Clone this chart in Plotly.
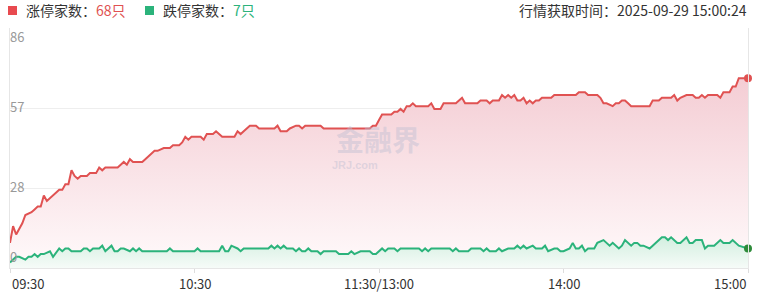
import plotly.graph_objects as go

# ---- data (minutes since 09:30, trading minutes; 120 = 11:30/13:00) ----
red_min = [0, 1, 2, 3, 4, 5, 7, 8, 9, 10, 11, 12, 14, 16, 17, 18, 19, 20, 21, 22, 23, 25, 26, 28, 29, 30,
           31, 35, 36, 37, 38, 39, 40, 43, 44, 45, 47, 48, 50, 52, 53, 55, 56, 57, 58, 59, 62, 63, 64, 66,
           67, 69, 73, 74, 75, 76, 78, 80, 81, 86, 87, 88, 90, 91, 93, 94, 95, 96, 101, 102, 117, 118, 119,
           120, 121, 124, 125, 126, 127, 128, 129, 130, 131, 132, 136, 137, 138, 140, 141, 145, 147, 148,
           152, 153, 155, 156, 157, 159, 160, 161, 162, 163, 164, 165, 166, 167, 168, 169, 170, 171, 172,
           173, 176, 177, 184, 185, 187, 188, 191, 192, 193, 194, 196, 197, 198, 199, 200, 201, 202, 208,
           209, 211, 212, 215, 216, 217, 218, 220, 222, 223, 224, 225, 226, 227, 230, 231, 232, 234, 235,
           236, 237, 240]
red_val = [9, 15, 12, 14, 16, 19, 20, 21, 22, 22, 26, 24, 26, 28, 28, 30, 30, 35, 33, 32, 33, 33, 34, 34, 36, 35,
           36, 36, 37, 38, 37, 39, 38, 38, 39, 40, 42, 42, 43, 43, 44, 44, 45, 47, 46, 47, 47, 46, 48, 48,
           49, 47, 47, 49, 48, 49, 51, 51, 50, 50, 51, 49, 49, 50, 51, 51, 50, 51, 51, 50, 50, 51, 51,
           53, 55, 55, 56, 56, 57, 56, 58, 58, 59, 58, 58, 59, 57, 57, 59, 59, 61, 59,
           59, 60, 60, 59, 60, 60, 62, 61, 62, 61, 62, 60, 60, 61, 59, 60, 59, 60, 60,
           61, 61, 62, 62, 63, 63, 62, 62, 61, 59, 59, 58, 59, 59, 60, 60, 59, 58, 58,
           60, 60, 61, 61, 62, 60, 61, 62, 62, 61, 61, 62, 61, 62, 62, 61, 63, 63, 65,
           65, 68, 68]

green_min = [0, 1, 2, 3, 5, 6, 7, 8, 9, 10, 11, 13, 14, 16, 17, 18, 19, 20, 23, 24, 25, 26, 27, 29, 30, 31,
             33, 34, 35, 36, 37, 39, 40, 41, 42, 43, 51, 52, 53, 60, 61, 62, 68, 69, 70, 71, 72, 74, 75, 76,
             78, 84, 85, 86, 87, 88, 89, 90, 92, 93, 94, 95, 96, 97, 98, 100, 101, 102, 106, 107, 110, 111,
             112, 114, 117, 118, 119, 121, 122, 123, 125, 126, 127, 133, 134, 135, 136, 137, 143, 144, 145,
             146, 149, 150, 153, 154, 155, 156, 158, 159, 160, 162, 164, 165, 166, 167, 168, 170, 171, 173,
             174, 175, 177, 178, 179, 180, 182, 183, 184, 185, 186, 187, 188, 190, 191, 193, 194, 195, 196,
             198, 199, 200, 202, 203, 204, 205, 206, 208, 209, 210, 212, 213, 214, 215, 217, 218, 220, 221,
             222, 223, 225, 226, 227, 229, 230, 231, 232, 234, 235, 236, 237, 240]
green_val = [2, 3, 4, 4, 3, 4, 4, 5, 4, 5, 5, 6, 4, 7, 6, 7, 7, 6, 6, 7, 7, 6, 7, 7, 8, 6,
             8, 6, 6, 7, 7, 6, 7, 6, 7, 6, 6, 7, 6, 6, 7, 6, 6, 8, 6, 6, 8, 7, 6, 7,
             7, 7, 8, 7, 8, 7, 8, 7, 7, 6, 7, 6, 6, 7, 6, 6, 5, 6, 6, 5, 5, 6,
             5, 6, 6, 5, 5, 7, 6, 7, 7, 6, 7, 7, 6, 7, 6, 7, 7, 6, 7,
             6, 6, 7, 7, 6, 7, 6, 6, 7, 6, 7, 7, 8, 7, 8, 7, 8, 7, 7,
             8, 6, 7, 7, 6, 6, 7, 9, 7, 7, 8, 6, 7, 7, 9, 10, 9, 8, 9,
             7, 8, 10, 8, 9, 9, 8, 8, 7, 8, 9, 11, 11, 10, 11, 9, 9, 11, 9,
             9, 10, 10, 7, 8, 8, 9, 10, 9, 9, 10, 9, 8, 7]

x_tickvals = [0, 60, 120, 180, 240]
x_ticktext = ["09:30", "10:30", "11:30/13:00", "14:00", "15:00"]
y_max = 86
y_tickvals = [0, 86 / 3, 172 / 3, 86]
y_ticktext = ["0", "28", "57", "86"]

up_count = 68
down_count = 7
fetch_time = "2025-09-29 15:00:24"

RED = "#e05252"
GREEN = "#2bb37b"
FONT = "Noto Sans CJK SC"

fig = go.Figure()

fig.add_trace(go.Scatter(
    x=red_min, y=red_val, mode="lines",
    line=dict(color=RED, width=2),
    fill="tozeroy",
    fillgradient=dict(type="vertical", start=0, stop=68,
                      colorscale=[[0, "rgba(255,250,251,1)"], [1, "rgba(244,205,212,1)"]]),
    hoverinfo="skip", showlegend=False))

fig.add_trace(go.Scatter(
    x=green_min, y=green_val, mode="lines",
    line=dict(color=GREEN, width=2),
    fill="tozeroy",
    fillgradient=dict(type="vertical", start=0, stop=10,
                      colorscale=[[0, "rgba(246,251,248,1)"], [1, "rgba(214,240,226,1)"]]),
    hoverinfo="skip", showlegend=False))

fig.add_trace(go.Scatter(x=[red_min[-1]], y=[red_val[-1]], mode="markers",
                         marker=dict(color=RED, size=8), cliponaxis=False,
                         hoverinfo="skip", showlegend=False))
fig.add_trace(go.Scatter(x=[green_min[-1]], y=[green_val[-1]], mode="markers",
                         marker=dict(color="#2e8b3a", size=8), cliponaxis=False,
                         hoverinfo="skip", showlegend=False))

L, R, T, B = 10, 16, 28, 26
W, H = 764, 294
pw, ph = W - L - R, H - T - B


def px(xp):
    return (xp - L) / pw


def py(yp):
    return (H - B - yp) / ph


annotations = []
# x tick labels
for v, t in zip(x_tickvals, x_ticktext):
    anchor = "center"
    if v == x_tickvals[0]:
        anchor = "left"
    elif v == x_tickvals[-1]:
        anchor = "right"
    annotations.append(dict(x=v, y=0, xref="x", yref="paper", text=t, showarrow=False,
                            xanchor=anchor, yanchor="top", yshift=-4,
                            font=dict(family=FONT, size=13, color="#333333")))
# y tick labels
for v, t in zip(y_tickvals, y_ticktext):
    if v == y_tickvals[-1]:
        ya, ys = "top", 3
    elif v == y_tickvals[0]:
        ya, ys = "bottom", 0
    else:
        ya, ys = "middle", 2
    annotations.append(dict(x=0, y=v, xref="paper", yref="y", text=t, showarrow=False,
                            xanchor="left", yanchor=ya, yshift=ys, xshift=-2,
                            font=dict(family=FONT, size=13, color="#999999")))
# legend-like header
annotations.append(dict(x=px(24), y=py(10.5), xref="paper", yref="paper", showarrow=False,
                        xanchor="left", yanchor="middle",
                        text=f"涨停家数：<span style='color:{RED}'>{up_count}只</span>",
                        font=dict(family=FONT, size=14, color="#333333")))
annotations.append(dict(x=px(161), y=py(10.5), xref="paper", yref="paper", showarrow=False,
                        xanchor="left", yanchor="middle",
                        text=f"跌停家数：<span style='color:{GREEN}'>{down_count}只</span>",
                        font=dict(family=FONT, size=14, color="#333333")))
annotations.append(dict(x=px(749), y=py(10.5), xref="paper", yref="paper", showarrow=False,
                        xanchor="right", yanchor="middle",
                        text=f"行情获取时间：{fetch_time}",
                        font=dict(family=FONT, size=14, color="#333333")))
# watermark
annotations.append(dict(x=px(378), y=py(139), xref="paper", yref="paper", showarrow=False,
                        xanchor="center", yanchor="middle", text="<b>金融界</b>", borderpad=0,
                        font=dict(family=FONT, size=28, color="rgba(190,190,210,0.45)")))
annotations.append(dict(x=px(331), y=py(165), xref="paper", yref="paper", showarrow=False,
                        xanchor="left", yanchor="middle", text="<b>JRJ.com</b>", borderpad=0,
                        font=dict(family="Liberation Sans", size=11, color="rgba(190,190,210,0.45)")))

shapes = [
    dict(type="rect", xref="paper", yref="paper", x0=px(8), x1=px(17), y0=py(15), y1=py(6),
         fillcolor="#e84a4f", line=dict(width=0)),
    dict(type="rect", xref="paper", yref="paper", x0=px(145), x1=px(154), y0=py(15), y1=py(6),
         fillcolor="#2bb37b", line=dict(width=0)),
]

fig.update_layout(
    width=W, height=H,
    margin=dict(l=L, r=R, t=T, b=B),
    paper_bgcolor="white", plot_bgcolor="white",
    annotations=annotations, shapes=shapes,
    xaxis=dict(range=[0, 240], tickvals=x_tickvals, showticklabels=False,
               ticks="outside", ticklen=4, tickcolor="#dddddd",
               showgrid=False, zeroline=False, showline=True, linecolor="#e6e6e6", linewidth=1),
    yaxis=dict(range=[0, y_max], tickvals=y_tickvals, showticklabels=False,
               showgrid=True, gridcolor="#eeeeee", zeroline=False,
               showline=True, linecolor="#e6e6e6", linewidth=1, mirror=True),
)

fig.write_html("out.html")
